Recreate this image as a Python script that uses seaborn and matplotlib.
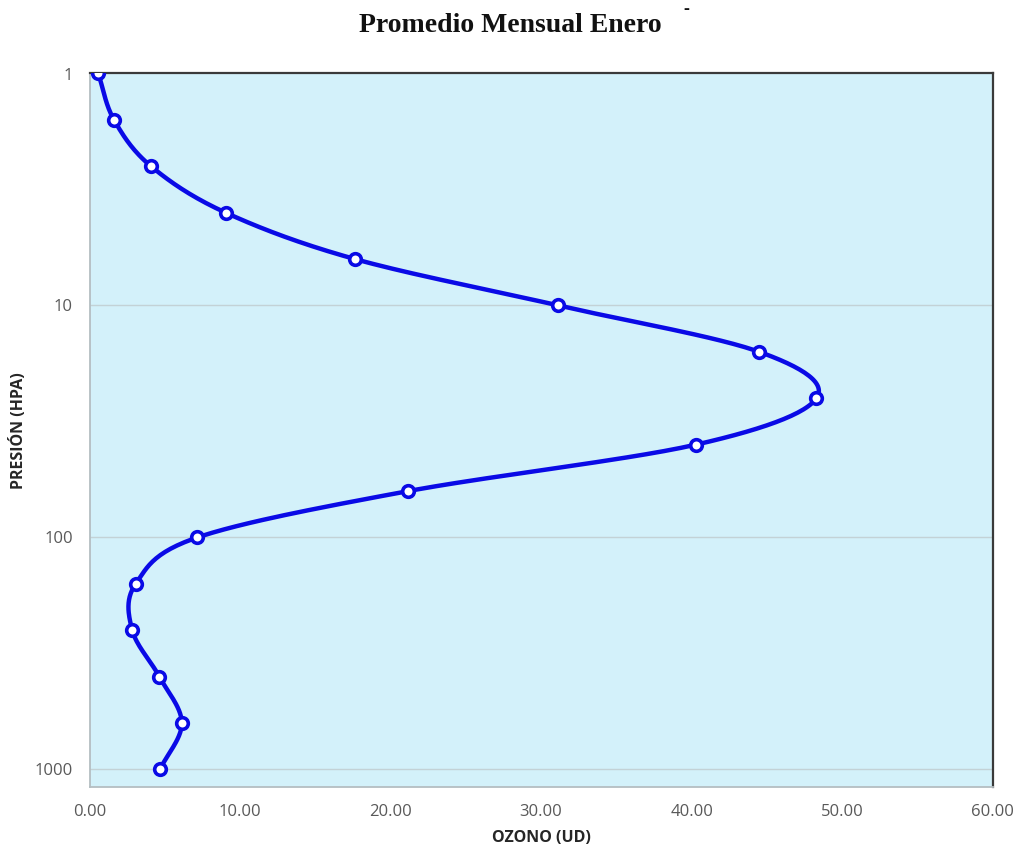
import numpy as np
import pandas as pd
import matplotlib
matplotlib.use("Agg")
import matplotlib.pyplot as plt
import seaborn as sns
from matplotlib.ticker import FixedLocator, FixedFormatter, NullLocator

# ---- data ----
presion = [1, 1.585, 2.512, 3.981, 6.310, 10, 15.85, 25.12, 39.81, 63.10,
           100, 158.5, 251.2, 398.1, 631.0, 1000]
ozono = [0.58, 1.63, 4.09, 9.05, 17.64, 31.15, 44.50, 48.29, 40.28, 21.18,
         7.16, 3.07, 2.84, 4.64, 6.13, 4.68]
y_ticks = [1, 10, 100, 1000]
y_tick_labels = ["1", "10", "100", "1000"]
x_ticks = [0, 10, 20, 30, 40, 50, 60]
x_tick_labels = ["0.00", "10.00", "20.00", "30.00", "40.00", "50.00", "60.00"]
title = "Promedio Mensual Enero"
xlabel = "OZONO (UD)"
ylabel = "PRESIÓN (HPA)"

sns.set_style("white")
plt.rcParams["font.family"] = ["Open Sans", "DejaVu Sans"]

W, H = 1017, 847
fig = plt.figure(figsize=(W / 100, H / 100), dpi=100)
ax = fig.add_axes([89.5 / W, 1 - 787.3 / H, (992.7 - 89.5) / W, (787.3 - 73.5) / H])

line_color = "#0a0ae6"

# smooth (Excel-like) curve: Catmull-Rom through the points in display-like space
sx, sy = 15.05, 232.0
P = np.column_stack([np.array(ozono) * sx, np.log10(presion) * sy])
Pe = np.vstack([P[0] - (P[1] - P[0]), P, P[-1] + (P[-1] - P[-2])])
pts = []
for i in range(1, len(Pe) - 2):
    p0, p1, p2, p3 = Pe[i - 1], Pe[i], Pe[i + 1], Pe[i + 2]
    t = np.linspace(0, 1, 30)[:, None]
    seg = 0.5 * ((2 * p1) + (-p0 + p2) * t + (2 * p0 - 5 * p1 + 4 * p2 - p3) * t ** 2
                 + (-p0 + 3 * p1 - 3 * p2 + p3) * t ** 3)
    pts.append(seg if i == 1 else seg[1:])
curve = np.vstack(pts)
curve_df = pd.DataFrame({"x": curve[:, 0] / sx, "y": 10 ** (curve[:, 1] / sy)})

ax.set_facecolor("#d3f1fa")
for yv in [10, 100, 1000]:
    ax.axhline(yv, color="#c3d2d6", lw=1.0, zorder=1)

sns.lineplot(data=curve_df, x="x", y="y", sort=False, estimator=None,
             color=line_color, lw=3.2, ax=ax, zorder=3)
df = pd.DataFrame({"ozono": ozono, "presion": presion})
sns.scatterplot(data=df, x="ozono", y="presion", ax=ax, s=70, marker="o",
                facecolor="white", edgecolor=line_color, linewidth=2.6, zorder=4)

ax.set_yscale("log")
ax.set_ylim(1194, 1)
ax.set_xlim(0, 60)
ax.yaxis.set_major_locator(FixedLocator(y_ticks))
ax.yaxis.set_major_formatter(FixedFormatter(y_tick_labels))
ax.yaxis.set_minor_locator(NullLocator())
ax.xaxis.set_major_locator(FixedLocator(x_ticks))
ax.xaxis.set_major_formatter(FixedFormatter(x_tick_labels))
ax.tick_params(axis="both", length=0, labelsize=12, labelcolor="#595959")
ax.tick_params(axis="y", pad=12)
ax.tick_params(axis="x", pad=12)

for s in ["top", "right"]:
    ax.spines[s].set_color("#3a3a3a")
    ax.spines[s].set_linewidth(1.6)
for s in ["left", "bottom"]:
    ax.spines[s].set_color("#b4bec2")
    ax.spines[s].set_linewidth(1.3)

ax.set_xlabel(xlabel, fontsize=11.5, fontweight="bold", color="#262626")
ax.set_ylabel(ylabel, fontsize=11.5, fontweight="bold", color="#262626")
ax.xaxis.set_label_coords(0.5, (787.3 - 838) / 713.8)
ax.yaxis.set_label_coords((19 - 89.5) / 903.2, 0.5)
ax.xaxis.label.set_va("center")
ax.yaxis.label.set_va("center")

fig.text(510 / W, 1 - 26 / H, title, ha="center", va="center",
         fontsize=20, fontweight="bold", family=["Liberation Serif", "DejaVu Serif"],
         color="#111111")
fig.text(686 / W, 1 - 9 / H, "-", ha="center", va="center",
         fontsize=13, fontweight="bold", family=["Liberation Serif", "DejaVu Serif"],
         color="#111111")

fig.savefig("out.png", dpi=100)
